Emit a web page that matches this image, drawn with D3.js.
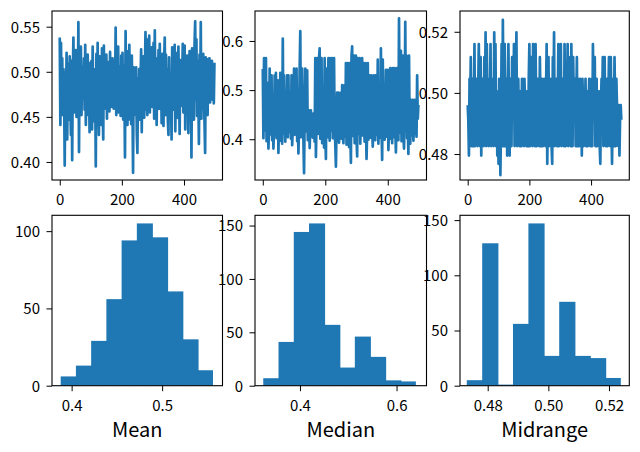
<!DOCTYPE html>
<html><head><meta charset="utf-8">
<script src="https://cdn.jsdelivr.net/npm/d3@7/dist/d3.min.js"></script>
<style>body{margin:0;background:#fff}svg{display:block}</style>
</head><body><svg id="c" width="640" height="452"></svg>
<script>
// ---- data (one stored sample every 2 indices of 500) ----
const sampleStep = 2;
const meanSeries = [
.538,.441,.532,.470,.515,.452,.503,.478,.396,.499,
.462,.521,.425,.488,.509,.447,.517,.466,.430,.512,
.402,.497,.538,.455,.511,.472,.524,.450,.493,.468,
.555,.411,.520,.463,.528,.452,.506,.481,.470,.515,
.458,.530,.441,.507,.476,.519,.452,.498,.433,.510,
.471,.512,.436,.528,.460,.503,.445,.489,.395,.520,
.451,.532,.468,.430,.517,.479,.508,.441,.526,.462,
.425,.529,.459,.503,.482,.519,.448,.511,.470,.497,
.456,.522,.473,.508,.461,.515,.487,.459,.512,.478,
.549,.452,.523,.470,.528,.455,.506,.490,.451,.518,
.466,.521,.447,.507,.483,.405,.545,.458,.512,.441,
.523,.447,.530,.471,.501,.442,.518,.469,.388,.505,
.452,.498,.466,.505,.431,.410,.493,.458,.503,.447,
.488,.525,.433,.509,.465,.517,.449,.496,.544,.458,
.536,.452,.519,.481,.540,.455,.506,.473,.527,.461,
.463,.532,.448,.546,.470,.515,.441,.503,.487,.524,
.459,.531,.476,.507,.443,.520,.462,.440,.512,.538,
.452,.519,.471,.503,.446,.430,.516,.465,.498,.479,
.425,.527,.458,.511,.480,.530,.434,.496,.467,.521,
.449,.528,.474,.431,.513,.462,.504,.488,.531,.455,
.472,.529,.436,.509,.458,.518,.483,.432,.497,.523,
.461,.514,.405,.526,.474,.503,.447,.531,.556,.469,
.536,.451,.512,.483,.420,.519,.466,.555,.448,.507,
.462,.520,.478,.445,.410,.516,.471,.499,.452,.514,
.486,.515,.466,.503,.478,.512,.469,.497,.465,.510];
const medianSeries = [
.543,.402,.565,.418,.431,.565,.396,.440,.514,.381,
.423,.544,.410,.435,.530,.398,.452,.381,.427,.530,
.415,.535,.402,.437,.520,.372,.446,.408,.535,.397,
.428,.391,.605,.412,.530,.440,.395,.473,.418,.530,
.404,.530,.431,.415,.462,.401,.530,.388,.424,.446,
.544,.409,.435,.418,.544,.396,.452,.371,.427,.544,
.620,.404,.438,.544,.412,.399,.331,.447,.544,.421,
.416,.540,.398,.432,.459,.382,.426,.459,.407,.441,
.403,.452,.419,.395,.565,.364,.437,.565,.411,.428,
.565,.585,.401,.434,.565,.392,.419,.476,.383,.565,
.413,.360,.544,.425,.404,.565,.438,.397,.565,.417,
.431,.565,.402,.446,.565,.415,.392,.344,.428,.495,
.409,.495,.393,.437,.418,.495,.401,.510,.426,.392,
.443,.510,.405,.555,.389,.421,.555,.432,.384,.555,
.418,.352,.570,.589,.407,.434,.570,.392,.425,.570,
.402,.365,.565,.436,.411,.565,.391,.447,.419,.565,
.408,.555,.428,.395,.555,.441,.360,.416,.555,.399,
.437,.530,.412,.403,.530,.426,.385,.448,.530,.417,
.398,.530,.433,.409,.562,.391,.441,.420,.403,.585,
.426,.358,.562,.414,.437,.399,.452,.541,.405,.423,
.541,.378,.431,.416,.545,.401,.437,.392,.545,.420,
.404,.545,.428,.373,.436,.545,.411,.398,.646,.425,
.413,.580,.396,.433,.570,.408,.381,.442,.639,.417,
.570,.402,.429,.370,.570,.415,.391,.480,.437,.408,
.480,.397,.426,.480,.412,.437,.405,.530,.442,.470];
const midrangeSeries = [
.4960,.4912,.4795,.5046,.4960,.5117,.4826,.4960,.5046,.4826,
.4960,.5160,.4826,.4912,.5046,.4960,.4826,.5005,.5160,.4960,
.4826,.5117,.4795,.4960,.5046,.4912,.4826,.5117,.4960,.5198,
.4826,.5160,.4960,.4912,.4826,.5046,.4960,.5160,.4826,.4960,
.4912,.5046,.4826,.5198,.4960,.5160,.4826,.5005,.4795,.4960,
.4768,.5046,.4960,.4731,.4912,.5160,.4826,.5239,.4960,.4826,
.5160,.4960,.4826,.5046,.4795,.4960,.5160,.4912,.4795,.5046,
.4960,.4826,.5117,.4960,.4912,.5160,.4826,.4960,.5046,.5198,
.4826,.4960,.5046,.4912,.4826,.5005,.4960,.4826,.5046,.4912,
.4960,.4826,.5046,.4960,.4912,.4826,.5005,.4960,.4826,.5046,
.5160,.4826,.4960,.5117,.4912,.4826,.5160,.4960,.5046,.4826,
.5160,.4960,.4826,.5046,.4912,.4960,.4826,.5117,.4960,.4826,
.5046,.4960,.4826,.4912,.5046,.4960,.4826,.5005,.5160,.4768,
.4960,.5117,.4826,.4960,.5046,.4912,.4826,.4768,.5117,.4960,
.5198,.4826,.4960,.4912,.5046,.4826,.4960,.5160,.4826,.5005,
.4960,.5160,.4826,.4912,.5046,.4960,.4826,.5160,.4960,.4826,
.5046,.4960,.5160,.4826,.4912,.4960,.5117,.4826,.5160,.4960,
.4826,.5117,.4960,.4912,.5046,.4826,.4960,.5117,.4826,.5046,
.4960,.4826,.5046,.4912,.4960,.4795,.5046,.4960,.4826,.5005,
.4912,.5046,.4826,.4960,.5005,.4826,.4960,.5046,.4912,.4826,
.4960,.5046,.4826,.5160,.4960,.4912,.5117,.4826,.4960,.5046,
.4826,.4960,.4912,.5005,.4826,.4768,.4960,.5046,.4960,.5117,
.4826,.4960,.5117,.4912,.4826,.4960,.5046,.4826,.4960,.5117,
.4960,.4826,.5117,.4912,.4768,.4960,.5046,.4826,.5117,.4960,
.4826,.5046,.4960,.4912,.4826,.4960,.4795,.4912,.4960,.4912];

const meanCounts     = [6,13,29,56,94,105,96,61,30,10];
const medianCounts   = [7,41,144,152,57,17,46,27,5,4];
const midrangeCounts = [5,129,1,56,147,27,76,27,25,7];
const meanBinRange     = [0.3879, 0.5562];
const medianBinRange   = [0.324, 0.640];
const midrangeBinRange = [0.4731, 0.5239];

const statLabels = ["Mean", "Median", "Midrange"];
const lineXTicks = [0, 200, 400];
const lineXTickLabels = ["0", "200", "400"];
const lineYTicks = [[0.40,0.45,0.50,0.55],[0.4,0.5,0.6],[0.48,0.50,0.52]];
const lineYTickLabels = [["0.40","0.45","0.50","0.55"],["0.4","0.5","0.6"],["0.48","0.50","0.52"]];
const histXTicks = [[0.4,0.5],[0.4,0.6],[0.48,0.50,0.52]];
const histXTickLabels = [["0.4","0.5"],["0.4","0.6"],["0.48","0.50","0.52"]];
const histYTicks = [[0,50,100],[0,50,100,150],[0,50,100,150]];
const histYTickLabels = [["0","50","100"],["0","50","100","150"],["0","50","100","150"]];

// ---- layout ----
const cols = [[52,222.5],[255,426.5],[460,629.3]];
const rows = [[11,180],[215.3,385.7]];
const lineXDomain = [-24.95, 523.95];
const lineYDomains = [[0.380,0.5674],[0.317,0.661],[0.4715,0.5268]];
const histXDomains = [[0.3783,0.5667],[0.3069,0.662],[0.47086,0.5267]];
const BLUE = "#1f77b4";
const FONT = '"Noto Sans CJK SC","Noto Sans",sans-serif';

const svg = d3.select("#c");
svg.append("rect").attr("width",640).attr("height",452).attr("fill","#fff");
const defs = svg.append("defs");

function styleAxis(sel, orient){
  sel.select(".domain").remove();
  sel.selectAll(".tick line").attr("stroke","#000").attr("stroke-width",1);
  const t = sel.selectAll(".tick text").attr("fill","#000")
     .style("font-family",FONT).style("font-size","15px");
  if(orient==="bottom"){ t.attr("y",25).attr("dy",null); }
  else { t.attr("x",-12).attr("dy","0.36em"); }
  sel.attr("font-family",null).attr("font-size",null);
}

function panel(ci, ri, id){
  const [x0,x1] = cols[ci], [y0,y1] = rows[ri];
  const g = svg.append("g");
  defs.append("clipPath").attr("id",id).append("rect")
    .attr("x",x0).attr("y",y0).attr("width",x1-x0).attr("height",y1-y0);
  return {g,x0,x1,y0,y1};
}

const seriesList = [meanSeries, medianSeries, midrangeSeries];
const countsList = [meanCounts, medianCounts, midrangeCounts];
const binRanges = [meanBinRange, medianBinRange, midrangeBinRange];

// top row: line plots
seriesList.forEach((s,ci)=>{
  const p = panel(ci,0,"cl"+ci);
  const x = d3.scaleLinear().domain(lineXDomain).range([p.x0,p.x1]);
  const y = d3.scaleLinear().domain(lineYDomains[ci]).range([p.y1,p.y0]);
  p.g.append("path").attr("clip-path",`url(#cl${ci})`)
    .attr("d", d3.line().x((d,i)=>x(i*sampleStep)).y(d=>y(d))(s))
    .attr("fill","none").attr("stroke",BLUE).attr("stroke-width",2.7)
    .attr("stroke-linejoin","round").attr("stroke-linecap","butt");
  p.g.append("rect").attr("x",p.x0).attr("y",p.y0).attr("width",p.x1-p.x0).attr("height",p.y1-p.y0)
    .attr("fill","none").attr("stroke","#000").attr("stroke-width",1.1);
  p.g.append("g").attr("transform",`translate(0,${p.y1})`)
    .call(d3.axisBottom(x).tickValues(lineXTicks).tickFormat((d,i)=>lineXTickLabels[i]).tickSize(5.5).tickSizeOuter(0))
    .call(a=>styleAxis(a,"bottom"));
  p.g.append("g").attr("transform",`translate(${p.x0},0)`)
    .call(d3.axisLeft(y).tickValues(lineYTicks[ci]).tickFormat((d,i)=>lineYTickLabels[ci][i]).tickSize(5.5).tickSizeOuter(0))
    .call(a=>styleAxis(a,"left"));
});

// bottom row: histograms
countsList.forEach((counts,ci)=>{
  const p = panel(ci,1,"ch"+ci);
  const [lo,hi] = binRanges[ci];
  const w = (hi-lo)/counts.length;
  const bins = counts.map((c,i)=>({x0: lo+i*w, x1: lo+(i+1)*w, c, last: i===counts.length-1}));
  const x = d3.scaleLinear().domain(histXDomains[ci]).range([p.x0,p.x1]);
  const y = d3.scaleLinear().domain([0, d3.max(counts)*1.05]).range([p.y1,p.y0]);
  p.g.append("g").attr("clip-path",`url(#ch${ci})`).selectAll("rect").data(bins).join("rect")
    .attr("x",d=>x(d.x0)).attr("width",d=>x(d.x1)-x(d.x0)+(d.last?0:0.8))
    .attr("y",d=>y(d.c)).attr("height",d=>y(0)-y(d.c)).attr("fill",BLUE);
  p.g.append("rect").attr("x",p.x0).attr("y",p.y0).attr("width",p.x1-p.x0).attr("height",p.y1-p.y0)
    .attr("fill","none").attr("stroke","#000").attr("stroke-width",1.1);
  p.g.append("g").attr("transform",`translate(0,${p.y1})`)
    .call(d3.axisBottom(x).tickValues(histXTicks[ci]).tickFormat((d,i)=>histXTickLabels[ci][i]).tickSize(5.5).tickSizeOuter(0))
    .call(a=>styleAxis(a,"bottom"));
  p.g.append("g").attr("transform",`translate(${p.x0},0)`)
    .call(d3.axisLeft(y).tickValues(histYTicks[ci]).tickFormat((d,i)=>histYTickLabels[ci][i]).tickSize(5.5).tickSizeOuter(0))
    .call(a=>styleAxis(a,"left"));
  p.g.append("text").attr("x",(p.x0+p.x1)/2).attr("y",436.7).attr("text-anchor","middle")
    .style("font-family",FONT).style("font-size","20px").attr("fill","#000").text(statLabels[ci]);
});
</script>
</body></html>
